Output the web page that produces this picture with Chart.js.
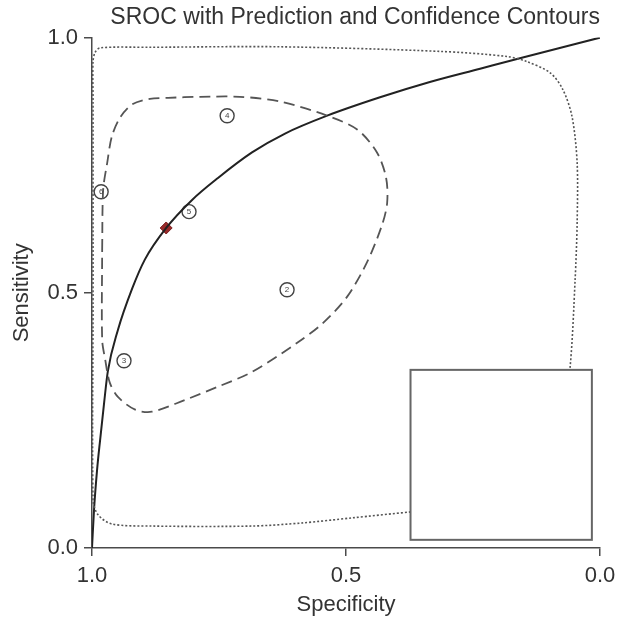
<!DOCTYPE html>
<html>
<head>
<meta charset="utf-8">
<script src="https://cdn.jsdelivr.net/npm/chart.js@4"></script>
<style>
  html, body { margin: 0; padding: 0; background: #fff; }
  #wrap { width: 620px; height: 618px; }
</style>
</head>
<body>
<div id="wrap"><canvas id="sroc"></canvas></div>
<script>
// -------------------- data --------------------
const tickValues = [0, 0.5, 1];

// SROC curve
const srocSpec = [1.0, 0.996, 0.990, 0.984, 0.976, 0.969, 0.949, 0.921, 0.896, 0.854, 0.803, 0.752, 0.685, 0.620, 0.537, 0.433, 0.335, 0.236, 0.152, 0.0];
const srocSens = [0.0, 0.075, 0.153, 0.212, 0.286, 0.345, 0.427, 0.508, 0.565, 0.627, 0.682, 0.725, 0.775, 0.812, 0.847, 0.883, 0.913, 0.939, 0.961, 1.0];

// confidence contour (dashed)
const confSpec = [0.980, 0.978, 0.970, 0.961, 0.945, 0.921, 0.886, 0.850, 0.787, 0.709, 0.630, 0.537, 0.478, 0.439, 0.421, 0.419, 0.429, 0.459, 0.498, 0.545, 0.596, 0.685, 0.752, 0.817, 0.882, 0.915, 0.949, 0.965, 0.974, 0.980, 0.980];
const confSens = [0.584, 0.702, 0.755, 0.806, 0.843, 0.869, 0.880, 0.882, 0.884, 0.884, 0.875, 0.847, 0.820, 0.775, 0.725, 0.676, 0.633, 0.559, 0.492, 0.441, 0.402, 0.345, 0.316, 0.290, 0.267, 0.271, 0.296, 0.324, 0.369, 0.408, 0.584];

// prediction contour (dotted)
const predSpec = [0.998, 0.998, 0.998, 0.994, 0.984, 0.886, 0.630, 0.315, 0.183, 0.144, 0.098, 0.073, 0.055, 0.045, 0.045, 0.049, 0.059, 0.079, 0.138, 0.236, 0.370, 0.488, 0.587, 0.685, 0.882, 0.961, 0.988, 0.998, 0.998];
const predSens = [0.486, 0.878, 0.953, 0.971, 0.980, 0.981, 0.982, 0.973, 0.963, 0.953, 0.931, 0.898, 0.845, 0.755, 0.637, 0.525, 0.353, 0.212, 0.114, 0.084, 0.071, 0.059, 0.049, 0.043, 0.043, 0.047, 0.065, 0.094, 0.486];

// individual studies
const studyLabels = ["4", "6", "5", "2", "3"];
const studySpec = [0.734, 0.982, 0.809, 0.616, 0.937];
const studySens = [0.847, 0.698, 0.659, 0.506, 0.367];

// summary point
const summarySpec = [0.854];
const summarySens = [0.627];

const toXY = (xs, ys) => xs.map((x, i) => ({ x: x, y: ys[i] }));

const axisColor = "#4a4a4a";
const textColor = "#333";
const fontFamily = "'Liberation Sans', Arial, sans-serif";

// write the study number inside each circle
const studyNumbers = {
  id: "studyNumbers",
  afterDatasetsDraw(chart) {
    const meta = chart.getDatasetMeta(3);
    const ctx = chart.ctx;
    ctx.save();
    ctx.fillStyle = "#444";
    ctx.font = "8px " + fontFamily;
    ctx.textAlign = "center";
    ctx.textBaseline = "middle";
    meta.data.forEach((pt, i) => ctx.fillText(studyLabels[i], pt.x, pt.y + 0.5));
    ctx.restore();
  }
};

// empty legend frame in the lower right corner
const legendFrame = {
  id: "legendFrame",
  afterDatasetsDraw(chart) {
    const a = chart.chartArea;
    const w = a.right - a.left, h = a.bottom - a.top;
    const x0 = a.left + w * 0.627, x1 = a.left + w * 0.984;
    const y0 = a.top + h * 0.651, y1 = a.top + h * 0.984;
    const ctx = chart.ctx;
    ctx.save();
    ctx.fillStyle = "#fff";
    ctx.fillRect(x0, y0, x1 - x0, y1 - y0);
    ctx.strokeStyle = "#666";
    ctx.lineWidth = 2;
    ctx.strokeRect(x0, y0, x1 - x0, y1 - y0);
    ctx.restore();
  }
};

new Chart(document.getElementById("sroc"), {
  type: "scatter",
  data: {
    datasets: [
      {
        label: "Prediction contour",
        data: toXY(predSpec, predSens),
        showLine: true,
        borderColor: "#555",
        borderWidth: 1.6,
        borderDash: [2, 2],
        pointRadius: 0,
        tension: 0.3,
      },
      {
        label: "Confidence contour",
        data: toXY(confSpec, confSens),
        showLine: true,
        borderColor: "#555",
        borderWidth: 1.8,
        borderDash: [11, 6],
        pointRadius: 0,
        tension: 0.3,
      },
      {
        label: "SROC curve",
        data: toXY(srocSpec, srocSens),
        showLine: true,
        borderColor: "#222",
        borderWidth: 2,
        pointRadius: 0,
        cubicInterpolationMode: "monotone",
      },
      {
        label: "Studies",
        data: toXY(studySpec, studySens),
        pointRadius: 7,
        pointBorderWidth: 1.4,
        pointBorderColor: "#444",
        pointBackgroundColor: "#fff",
      },
      {
        label: "Summary",
        data: toXY(summarySpec, summarySens),
        pointStyle: "rectRot",
        pointRadius: 6,
        pointBorderWidth: 1,
        pointBorderColor: "#7a1f1f",
        pointBackgroundColor: "#9a2b2b",
      },
    ],
  },
  options: {
    responsive: true,
    maintainAspectRatio: false,
    animation: false,
    layout: { padding: { left: 0, right: 20, top: 0, bottom: 0 } },
    scales: {
      x: {
        type: "linear",
        reverse: true,
        min: 0,
        max: 1,
        afterBuildTicks: (s) => { s.ticks = tickValues.map(v => ({ value: v })); },
        afterFit: (s) => { s.height = 70; },
        border: { display: true, color: axisColor, width: 1.5 },
        grid: { display: true, drawOnChartArea: false, tickLength: 8, color: axisColor, lineWidth: 1.5 },
        ticks: {
          color: textColor,
          padding: 7,
          font: { family: fontFamily, size: 22 },
          callback: (v) => Number(v).toFixed(1),
        },
        title: {
          display: true,
          text: "Specificity",
          color: textColor,
          padding: { top: 0, bottom: 0 },
          font: { family: fontFamily, size: 22 },
        },
      },
      y: {
        type: "linear",
        min: 0,
        max: 1,
        afterBuildTicks: (s) => { s.ticks = tickValues.map(v => ({ value: v })); },
        afterFit: (s) => { s.width = 92; },
        border: { display: true, color: axisColor, width: 1.5 },
        grid: { display: true, drawOnChartArea: false, tickLength: 8, color: axisColor, lineWidth: 1.5 },
        ticks: {
          color: textColor,
          padding: 6,
          font: { family: fontFamily, size: 22 },
          callback: (v) => Number(v).toFixed(1),
        },
        title: {
          display: true,
          text: "Sensitivity",
          color: textColor,
          padding: { top: 9, bottom: 0 },
          font: { family: fontFamily, size: 22 },
        },
      },
    },
    plugins: {
      legend: { display: false },
      tooltip: { enabled: false },
      title: {
        display: true,
        text: "SROC with Prediction and Confidence Contours",
        align: "end",
        color: textColor,
        padding: { top: 4, bottom: 6 },
        font: { family: fontFamily, size: 23, weight: "normal" },
      },
    },
  },
  plugins: [studyNumbers, legendFrame],
});
</script>
</body>
</html>
